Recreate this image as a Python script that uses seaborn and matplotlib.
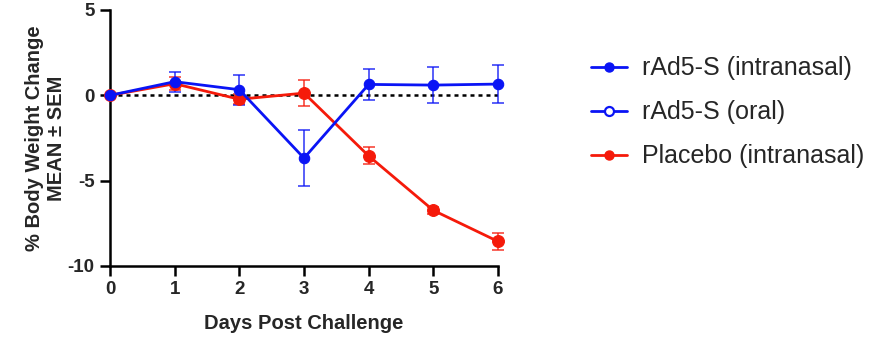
import numpy as np
import pandas as pd
import matplotlib
matplotlib.use("Agg")
import matplotlib.pyplot as plt
from matplotlib.lines import Line2D
import seaborn as sns

days = [0, 1, 2, 3, 4, 5, 6]
intranasal_mean = [0.0, 0.80, 0.33, -3.68, 0.64, 0.60, 0.66]
intranasal_sem = [0.0, 0.58, 0.87, 1.65, 0.93, 1.07, 1.12]
placebo_mean = [0.0, 0.68, -0.23, 0.13, -3.55, -6.74, -8.56]
placebo_sem = [0.0, 0.38, 0.30, 0.78, 0.50, 0.20, 0.48]
series_names = ["rAd5-S (intranasal)", "rAd5-S (oral)", "Placebo (intranasal)"]
xlabel = "Days Post Challenge"
ylabel = "% Body Weight Change\nMEAN \u00b1 SEM"
yticks = [-10, -5, 0, 5]

BLUE = "#0a14f5"
RED = "#f51a0a"

sns.set_theme(style="ticks")
plt.rcParams["font.family"] = ["Liberation Sans", "DejaVu Sans"]
plt.rcParams["axes.unicode_minus"] = False

df = pd.concat([
    pd.DataFrame({"day": days, "mean": placebo_mean, "sem": placebo_sem,
                  "group": series_names[2]}),
    pd.DataFrame({"day": days, "mean": intranasal_mean, "sem": intranasal_sem,
                  "group": series_names[0]}),
])

fig = plt.figure(figsize=(8.86, 3.4), dpi=100)
ax = fig.add_axes([110 / 886, 74 / 340, 388 / 886, 256 / 340])

# reference line at zero change
ax.axhline(0, color="black", ls=(0, (1.6, 1.6)), lw=1.8, zorder=1)

palette = {series_names[0]: BLUE, series_names[2]: RED}
sizes = {series_names[0]: 7.5, series_names[2]: 8.5}
for name in [series_names[2], series_names[0]]:
    sub = df[df["group"] == name]
    ax.errorbar(sub["day"], sub["mean"], yerr=sub["sem"], fmt="none",
                ecolor=palette[name], elinewidth=1.2, capsize=4, capthick=1.2,
                alpha=0.8, zorder=2, clip_on=False)
    sns.lineplot(data=sub, x="day", y="mean", ax=ax, color=palette[name],
                 lw=2, marker="o", markersize=sizes[name], markeredgewidth=0.8,
                 markeredgecolor=palette[name], zorder=3, clip_on=False,
                 legend=False)

ax.set_xlim(0, 6)
ax.set_ylim(-10, 5)
ax.set_xticks(days)
ax.set_yticks(yticks)
ax.set_xlabel(xlabel, fontsize=14.5, fontweight="bold", labelpad=11)
ax.set_ylabel(ylabel, fontsize=14.5, fontweight="bold", labelpad=1,
              linespacing=1.25)
for lab in ax.get_xticklabels() + ax.get_yticklabels():
    lab.set_fontweight("bold")
    lab.set_fontsize(13.5)
ax.tick_params(axis="both", width=1.8, length=7, color="black", pad=4)
for side in ["left", "bottom"]:
    ax.spines[side].set_linewidth(1.8)
    ax.spines[side].set_color("black")
sns.despine(ax=ax)

handles = [
    Line2D([], [], color=BLUE, lw=2, marker="o", markersize=6.5),
    Line2D([], [], color=BLUE, lw=2, marker="o", markersize=6.5,
           markerfacecolor="white", markeredgewidth=1.6),
    Line2D([], [], color=RED, lw=2, marker="o", markersize=6.5),
]
fig.legend(handles, series_names, loc="upper left",
           bbox_to_anchor=(583 / 886, 1 - 49 / 340), frameon=False,
           fontsize=18, handlelength=1.45, handletextpad=0.62,
           labelspacing=0.8, borderaxespad=0, borderpad=0.3)

fig.savefig("out.png", dpi=100)
